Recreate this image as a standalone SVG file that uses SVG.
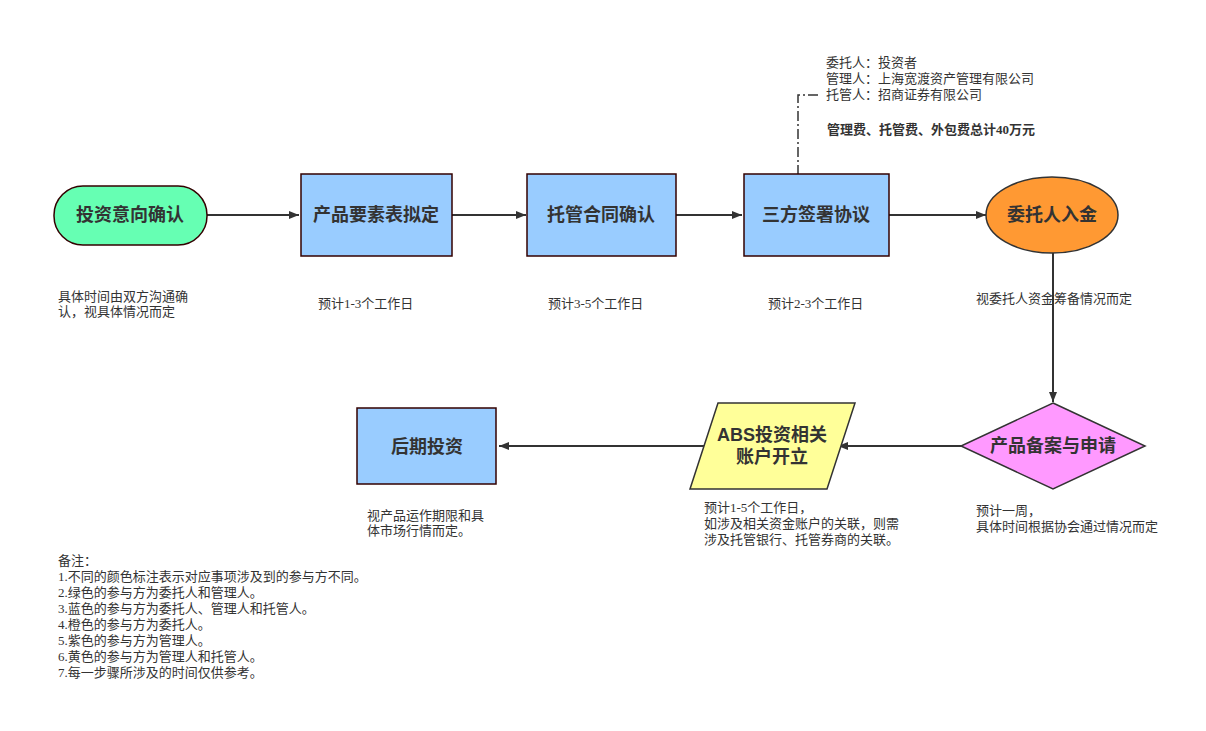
<svg xmlns="http://www.w3.org/2000/svg" width="1206" height="731" viewBox="0 0 1206 731">
<defs>
<marker id="a" viewBox="0 0 10 10" refX="10" refY="5" markerWidth="10" markerHeight="10" markerUnits="userSpaceOnUse" orient="auto"><path d="M0,1 L10,5 L0,9 Z" fill="#333"/></marker>
<style>
.n{font-family:"Liberation Sans","Noto Sans CJK SC",sans-serif;font-size:18px;font-weight:bold;fill:#333;text-anchor:middle}
.s{font-family:"Liberation Serif","Noto Sans CJK SC",serif;font-size:13px;fill:#333}
.c{stroke:#333;stroke-width:2;fill:none;marker-end:url(#a)}
.b{fill:#99ccff;stroke:#330000;stroke-width:1.5}
</style>
</defs>
<rect width="1206" height="731" fill="#fff"/>
<g id="connectors">
<path class="c" d="M207,215 H299"/>
<path class="c" d="M452,215 H526"/>
<path class="c" d="M676,215 H742"/>
<path class="c" d="M889,215 H986"/>
<path class="c" d="M1053,253 V402"/>
<path class="c" d="M961,446 H838"/>
<path class="c" d="M705,446 H499"/>
<path d="M798,175 V95 H818" fill="none" stroke="#333" stroke-width="1.5" stroke-dasharray="10,3,2,3"/>
</g>
<g id="n1"><rect x="54" y="186" width="153" height="59" rx="29" fill="#66ffb3" stroke="#330000" stroke-width="1.5"/><text class="n" x="130" y="221">投资意向确认</text></g>
<g id="n2"><rect class="b" x="301" y="174" width="151" height="82"/><text class="n" x="376" y="221">产品要素表拟定</text></g>
<g id="n3"><rect class="b" x="527" y="174" width="149" height="82"/><text class="n" x="601" y="221">托管合同确认</text></g>
<g id="n4"><rect class="b" x="744" y="174" width="145" height="82" stroke="#333"/><text class="n" x="816" y="221">三方签署协议</text></g>
<g id="n5"><ellipse cx="1052" cy="215" rx="66" ry="38" fill="#ff9933" stroke="#333" stroke-width="1.5"/><text class="n" x="1052" y="221">委托人入金</text></g>
<g id="n6"><path d="M1053,403 L1145,446 L1053,489 L961,446 Z" fill="#ff99ff" stroke="#333" stroke-width="1.5"/><text class="n" x="1053" y="452">产品备案与申请</text></g>
<g id="n7"><path d="M718,403 H855 L827,489 H690 Z" fill="#ffff99" stroke="#333" stroke-width="1.5"/><text class="n" x="772" y="441" font-family="Liberation Serif,Noto Sans CJK SC,serif">ABS投资相关</text><text class="n" x="772" y="463">账户开立</text></g>
<g id="n8"><rect class="b" x="357" y="408" width="139" height="76" stroke="#333"/><text class="n" x="427" y="453" font-size="20">后期投资</text></g>
<g id="texts">
<text class="s" x="826" y="67">委托人：投资者</text>
<text class="s" x="826" y="83">管理人：上海宽渡资产管理有限公司</text>
<text class="s" x="826" y="99">托管人：招商证券有限公司</text>
<text class="s" x="827" y="134" font-weight="bold">管理费、托管费、外包费总计40万元</text>
<text class="s" x="58" y="301">具体时间由双方沟通确</text>
<text class="s" x="58" y="316">认，视具体情况而定</text>
<text class="s" x="318" y="308">预计1-3个工作日</text>
<text class="s" x="548" y="308">预计3-5个工作日</text>
<text class="s" x="768" y="308">预计2-3个工作日</text>
<text class="s" x="976" y="303">视委托人资金筹备情况而定</text>
<text class="s" x="976" y="515">预计一周，</text>
<text class="s" x="976" y="531">具体时间根据协会通过情况而定</text>
<text class="s" x="704" y="512">预计1-5个工作日，</text>
<text class="s" x="704" y="528">如涉及相关资金账户的关联，则需</text>
<text class="s" x="704" y="544">涉及托管银行、托管券商的关联。</text>
<text class="s" x="367" y="520">视产品运作期限和具</text>
<text class="s" x="367" y="535">体市场行情而定。</text>
<text class="s" x="58" y="565">备注：</text>
<text class="s" x="58" y="581">1.不同的颜色标注表示对应事项涉及到的参与方不同。</text>
<text class="s" x="58" y="597">2.绿色的参与方为委托人和管理人。</text>
<text class="s" x="58" y="613">3.蓝色的参与方为委托人、管理人和托管人。</text>
<text class="s" x="58" y="629">4.橙色的参与方为委托人。</text>
<text class="s" x="58" y="645">5.紫色的参与方为管理人。</text>
<text class="s" x="58" y="661">6.黄色的参与方为管理人和托管人。</text>
<text class="s" x="58" y="677">7.每一步骤所涉及的时间仅供参考。</text>
</g>
</svg>
